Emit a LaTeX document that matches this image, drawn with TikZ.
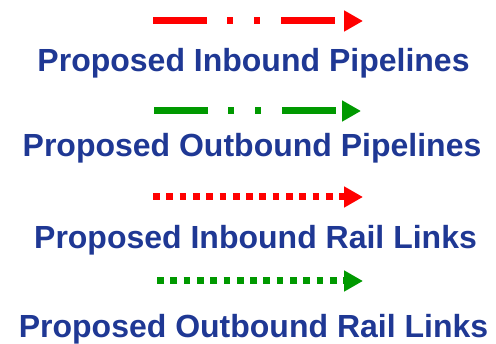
\documentclass[tikz,border=0pt]{standalone}
\usepackage{fontspec}
\setmainfont{Liberation Sans}
\usetikzlibrary{arrows.meta}
\definecolor{legendblue}{RGB}{31,56,148}
\definecolor{legendgreen}{RGB}{0,153,0}
\tikzset{
  legendtext/.style = {anchor=base, inner sep=0pt, text=legendblue,
    font=\fontsize{32}{38}\selectfont\bfseries},
  legendarrow/.style = {line width=7pt, -{Triangle[length=19pt,width=20pt]}},
  pipeline/.style = {legendarrow, dash pattern=on 54pt off 20pt on 6pt off 21pt on 6pt off 21pt},
  raillink/.style = {legendarrow, dash pattern=on 6.7pt off 6.6pt}
}
\begin{document}
\begin{tikzpicture}[x=1pt,y=-1pt]
\useasboundingbox (0,0) rectangle (496,344);

\coordinate (inpipe-s) at (153,21);
\coordinate (inpipe-e) at (363,21);
\draw[pipeline, red] (inpipe-s) -- (inpipe-e);
\node[legendtext] (inpipe) at (253.5,72) {Proposed Inbound Pipelines};

\coordinate (outpipe-s) at (154,111);
\coordinate (outpipe-e) at (361,111);
\draw[pipeline, legendgreen] (outpipe-s) -- (outpipe-e);
\node[legendtext] (outpipe) at (252,157) {Proposed Outbound Pipelines};

\coordinate (inrail-s) at (153,197);
\coordinate (inrail-e) at (363,197);
\draw[raillink, red] (inrail-s) -- (inrail-e);
\node[legendtext] (inrail) at (255.5,249) {Proposed Inbound Rail Links};

\coordinate (outrail-s) at (157,281);
\coordinate (outrail-e) at (363,281);
\draw[raillink, legendgreen] (outrail-s) -- (outrail-e);
\node[legendtext] (outrail) at (253.5,338) {Proposed Outbound Rail Links};
\end{tikzpicture}
\end{document}
